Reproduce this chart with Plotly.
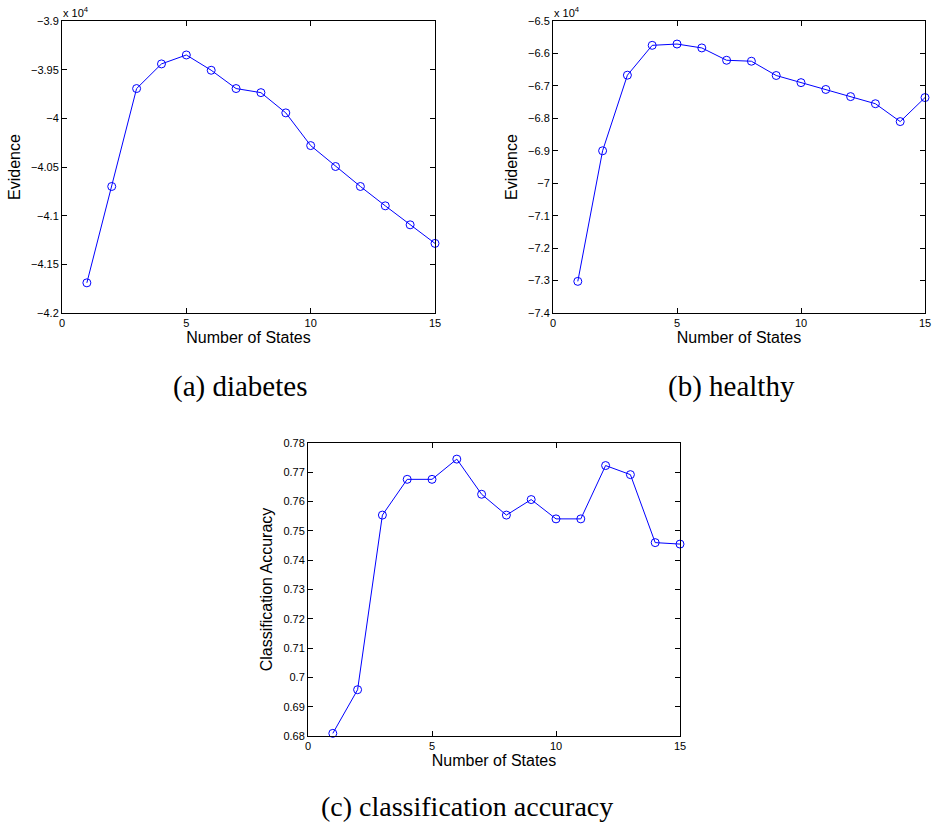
import plotly.graph_objects as go

W, H = 932, 823

states = list(range(1, 16))
evidence_diabetes = [-41690, -40700, -39694, -39441, -39349, -39506, -39694, -39736,
                     -39944, -40280, -40495, -40700, -40899, -41094, -41285]
evidence_healthy = [-73025, -69000, -66670, -65750, -65710, -65830, -66210, -66240,
                    -66680, -66900, -67110, -67330, -67550, -68100, -67360]
accuracy = [0.6809, 0.6958, 0.7554, 0.7676, 0.7676, 0.7745, 0.7625, 0.7554,
            0.7607, 0.7541, 0.7541, 0.7723, 0.7692, 0.7460, 0.7455]

x_ticks = [0, 5, 10, 15]
ya_ticks = [-39000, -39500, -40000, -40500, -41000, -41500, -42000]
ya_text = ["−3.9", "−3.95", "−4", "−4.05", "−4.1", "−4.15", "−4.2"]
yb_ticks = [-65000, -66000, -67000, -68000, -69000, -70000, -71000, -72000, -73000, -74000]
yb_text = ["−6.5", "−6.6", "−6.7", "−6.8", "−6.9", "−7", "−7.1", "−7.2", "−7.3", "−7.4"]
yc_ticks = [0.68, 0.69, 0.70, 0.71, 0.72, 0.73, 0.74, 0.75, 0.76, 0.77, 0.78]
yc_text = ["0.68", "0.69", "0.7", "0.71", "0.72", "0.73", "0.74", "0.75", "0.76", "0.77", "0.78"]

captions = ["(a) diabetes", "(b) healthy", "(c) classification accuracy"]

BLUE = "rgb(0,0,255)"
TICKFONT = dict(family="Liberation Sans, Arial", size=11, color="black")
TITLEFONT = dict(family="Liberation Sans, Arial", size=16, color="black")


def px_x(p):
    return p / W


def px_y(p):
    return 1 - p / H


fig = go.Figure()

panels = [
    ("x", "y", evidence_diabetes, (62, 435), (21, 313), ya_ticks, ya_text, [-42000, -39000], "Evidence"),
    ("x2", "y2", evidence_healthy, (553, 925), (21, 313), yb_ticks, yb_text, [-74000, -65000], "Evidence"),
    ("x3", "y3", accuracy, (308, 680), (443, 736), yc_ticks, yc_text, [0.68, 0.78], "Classification Accuracy"),
]

layout = {}
for i, (xa, ya, yv, (x0, x1), (y0, y1), tv, tt, rng, ytitle) in enumerate(panels):
    fig.add_trace(go.Scatter(
        x=states, y=yv, xaxis=xa, yaxis=ya, mode="lines+markers",
        line=dict(color=BLUE, width=1),
        marker=dict(symbol="circle-open", size=8, color=BLUE, line=dict(width=1, color=BLUE)),
        cliponaxis=False, showlegend=False,
    ))
    xk = "xaxis" if i == 0 else f"xaxis{i+1}"
    yk = "yaxis" if i == 0 else f"yaxis{i+1}"
    layout[xk] = dict(
        domain=[px_x(x0), px_x(x1)], anchor=ya, range=[0, 15], automargin=False,
        tickvals=x_ticks, ticks="inside", ticklen=5, tickcolor="black",
        showline=True, linecolor="black", linewidth=1, mirror="allticks",
        showgrid=False, zeroline=False, tickfont=TICKFONT,
        title=dict(text="Number of States", font=TITLEFONT, standoff=0),
    )
    layout[yk] = dict(
        domain=[px_y(y1), px_y(y0)], anchor=xa, range=rng, automargin=False,
        tickvals=tv, ticktext=tt, ticks="inside", ticklen=5, tickcolor="black",
        showline=True, linecolor="black", linewidth=1, mirror="allticks",
        showgrid=False, zeroline=False, tickfont=TICKFONT,
        title=dict(text=ytitle, font=TITLEFONT, standoff=6),
    )

annotations = [
    dict(x=px_x(61), y=px_y(21), xref="paper", yref="paper", xanchor="left", yanchor="bottom",
         text="x 10<sup>4</sup>", showarrow=False, font=dict(family="Liberation Sans, Arial", size=11, color="black")),
    dict(x=px_x(552), y=px_y(21), xref="paper", yref="paper", xanchor="left", yanchor="bottom",
         text="x 10<sup>4</sup>", showarrow=False, font=dict(family="Liberation Sans, Arial", size=11, color="black")),
]
cap_pos = [(240, 386), (731, 386), (467, 806)]
cap_sizes = [29, 29, 28]
for txt, (cx, cy), sz in zip(captions, cap_pos, cap_sizes):
    annotations.append(dict(
        x=px_x(cx), y=px_y(cy), xref="paper", yref="paper", xanchor="center", yanchor="middle",
        text=txt, showarrow=False,
        font=dict(family="Liberation Serif, DejaVu Serif, serif", size=sz, color="black"),
    ))

fig.update_layout(
    width=W, height=H, margin=dict(l=0, r=0, t=0, b=0),
    paper_bgcolor="white", plot_bgcolor="white",
    annotations=annotations, **layout,
)

fig.write_html("out.html", config={"displayModeBar": False},
               post_script="document.body.style.margin='0px';")
